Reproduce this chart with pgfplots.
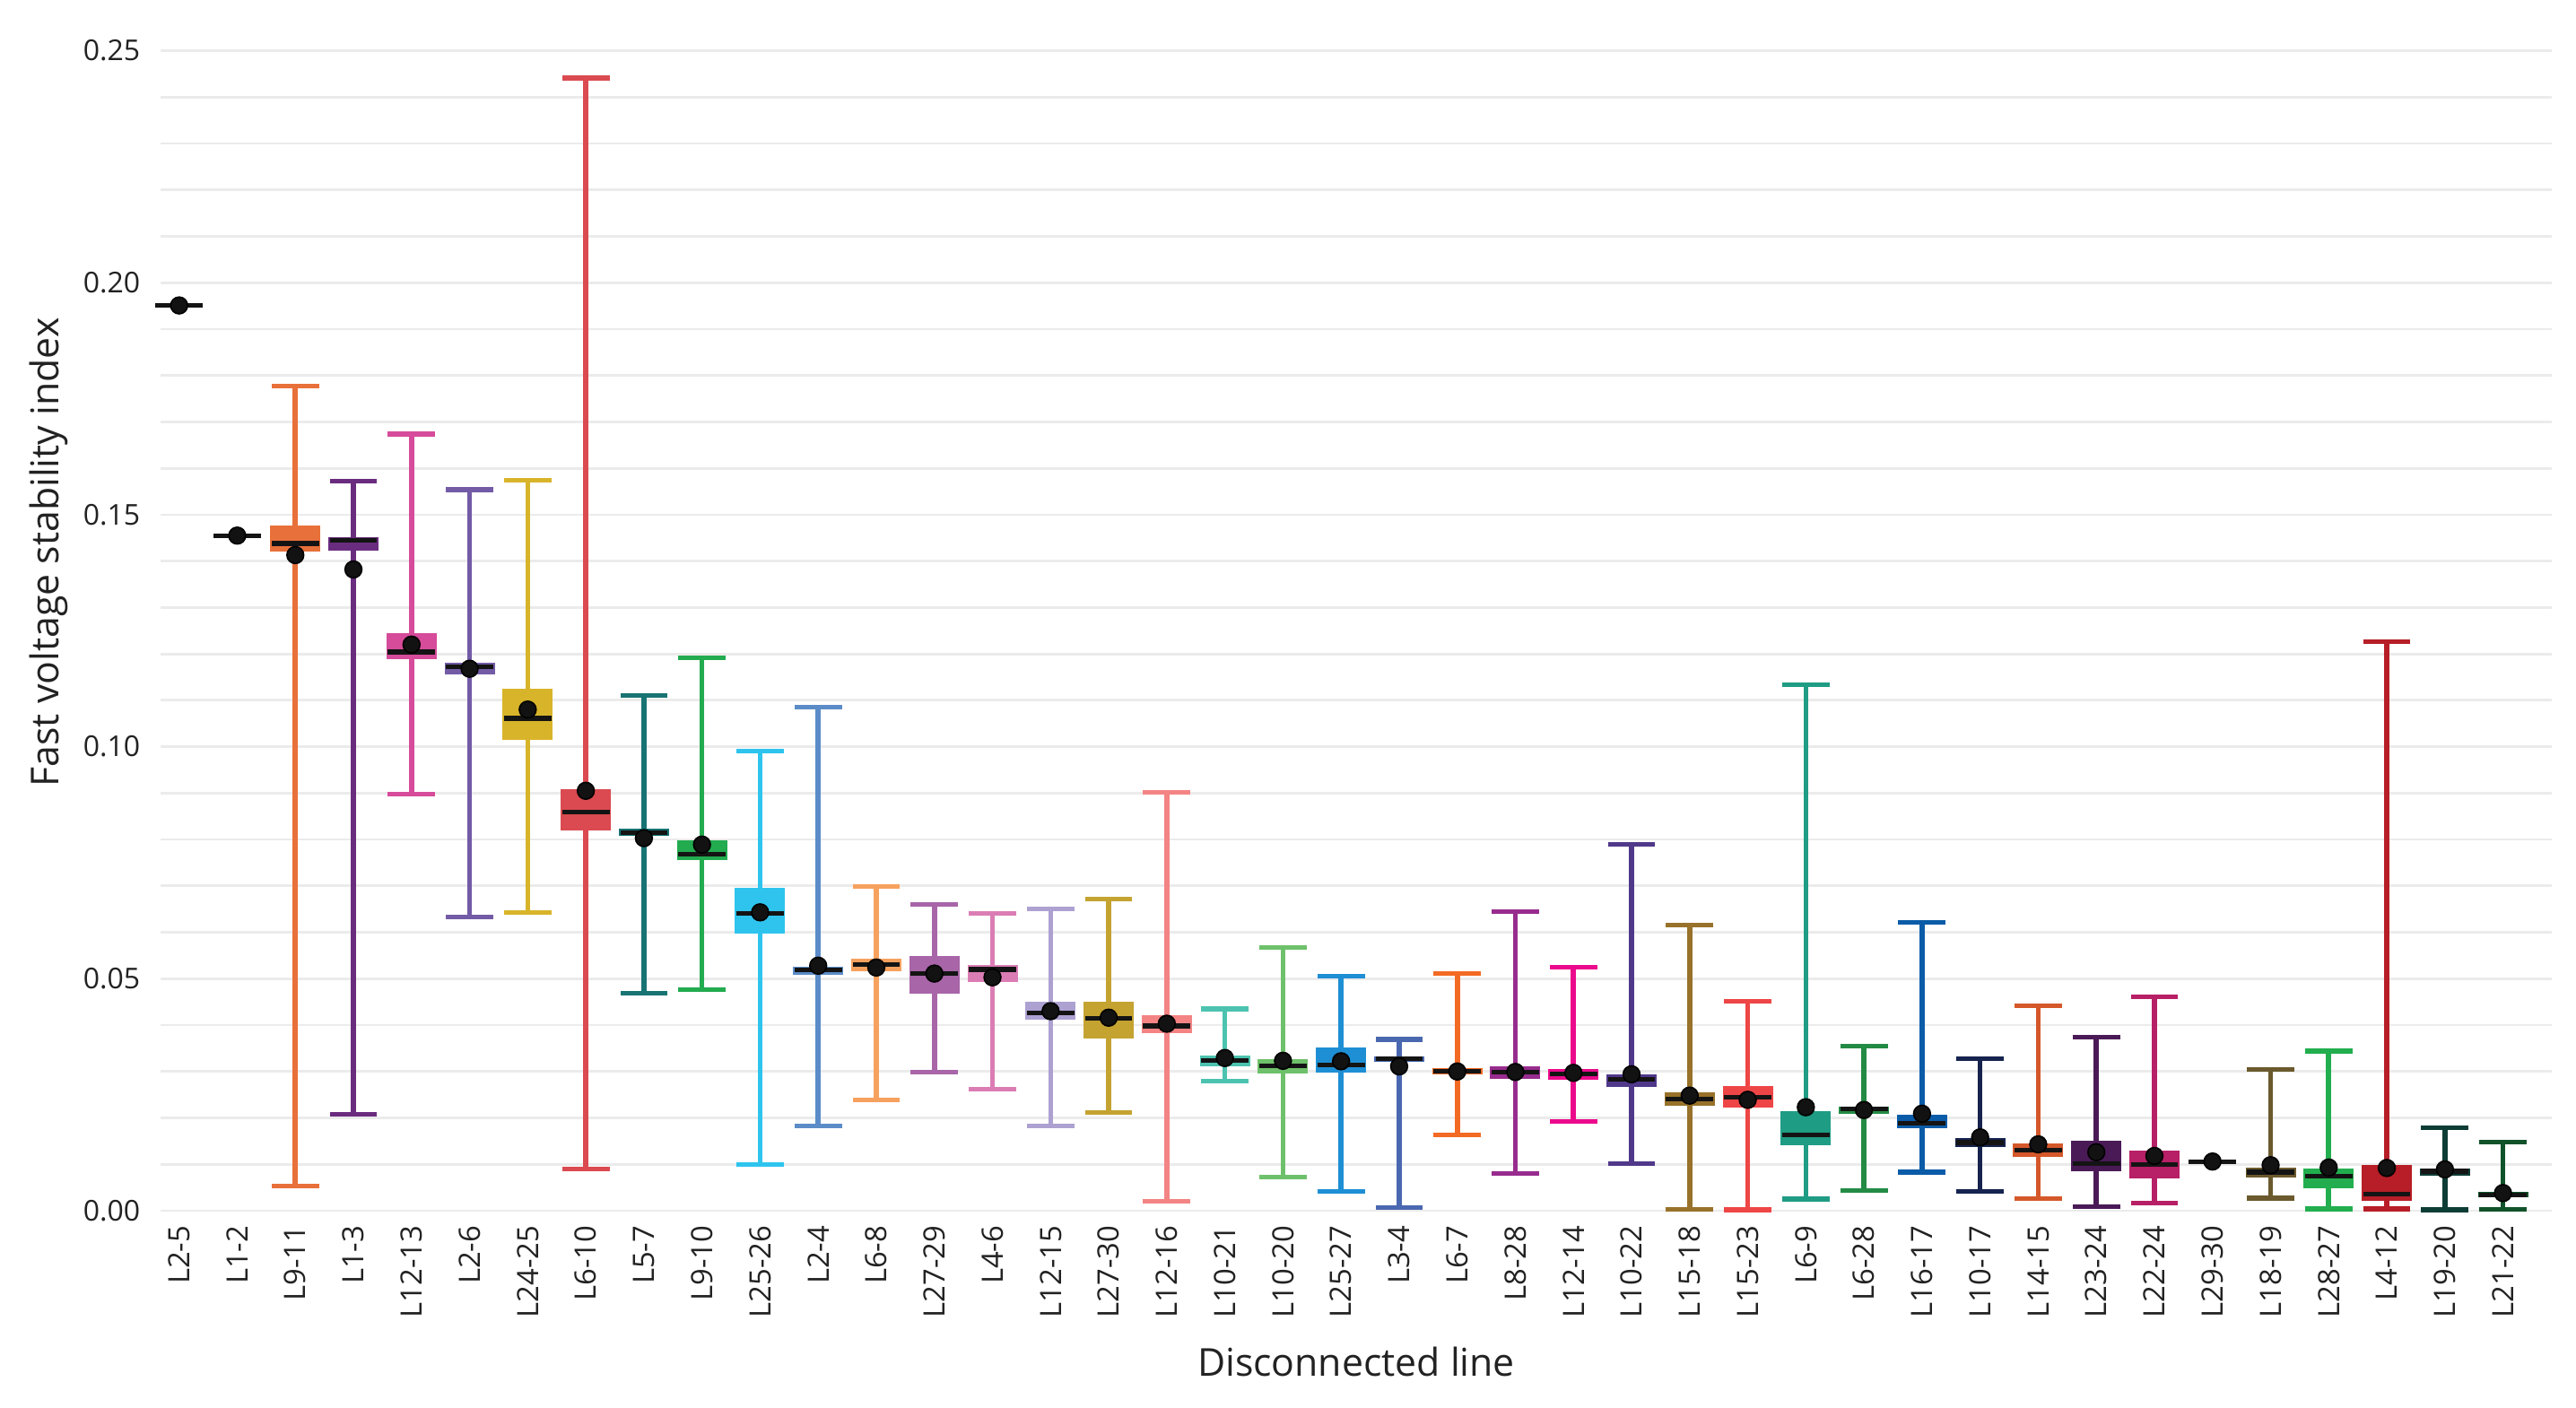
\documentclass[border=0pt]{standalone}
\usepackage{fontspec}
\setmainfont{Open Sans}
\usepackage{pgfplots}
\pgfplotsset{compat=1.18}

\definecolor{gridc}{HTML}{EBEBEB}
\definecolor{txt}{HTML}{222222}
\definecolor{c03}{HTML}{E8703A}
\definecolor{c04}{HTML}{6A2C7F}
\definecolor{c05}{HTML}{D64B9A}
\definecolor{c06}{HTML}{735BA6}
\definecolor{c07}{HTML}{D8B42A}
\definecolor{c08}{HTML}{DA4A50}
\definecolor{c09}{HTML}{187373}
\definecolor{c10}{HTML}{22AB4F}
\definecolor{c11}{HTML}{2EC4EE}
\definecolor{c12}{HTML}{5B8CC8}
\definecolor{c13}{HTML}{F7A15E}
\definecolor{c14}{HTML}{A865A8}
\definecolor{c15}{HTML}{DB7DB4}
\definecolor{c16}{HTML}{ADA1D2}
\definecolor{c17}{HTML}{C4A331}
\definecolor{c18}{HTML}{F48484}
\definecolor{c19}{HTML}{4CC3B0}
\definecolor{c20}{HTML}{6EC16A}
\definecolor{c21}{HTML}{1E8FD4}
\definecolor{c22}{HTML}{4A68B0}
\definecolor{c23}{HTML}{F36A24}
\definecolor{c24}{HTML}{982C8E}
\definecolor{c25}{HTML}{EC0A8C}
\definecolor{c26}{HTML}{50388A}
\definecolor{c27}{HTML}{98722A}
\definecolor{c28}{HTML}{EE4646}
\definecolor{c29}{HTML}{1F9C84}
\definecolor{c30}{HTML}{238B44}
\definecolor{c31}{HTML}{0B5CA8}
\definecolor{c32}{HTML}{15234E}
\definecolor{c33}{HTML}{D5582A}
\definecolor{c34}{HTML}{4A1A56}
\definecolor{c35}{HTML}{B71F66}
\definecolor{c37}{HTML}{6B5A2D}
\definecolor{c38}{HTML}{22AE4E}
\definecolor{c39}{HTML}{B71E27}
\definecolor{c40}{HTML}{0E3D36}
\definecolor{c41}{HTML}{10522A}

% one box: position, colour, lower whisker, q1, median, q3, upper whisker
\newcommand{\bxp}[7]{%
  \addplot[#2, line width=1.4pt, mark=-, mark size=6.6pt, mark options={solid, line width=1.3pt}] coordinates {(#1,#3) (#1,#7)};
  \addplot[#2, line width=14pt] coordinates {(#1,#4) (#1,#6)};
  \addplot[black!92, only marks, mark=-, mark size=6.6pt, mark options={line width=1.3pt}] coordinates {(#1,#5)};
}

\begin{document}
\begin{tikzpicture}
\begin{axis}[
    scale only axis,
    width=666.5pt, height=323.35pt,
    xmin=-0.32, xmax=40.84,
    ymin=0, ymax=0.25,
    clip=false,
    axis line style={draw=none},
    major tick length=0pt, minor tick length=0pt,
    tick style={draw=none},
    ytick={0,0.05,0.1,0.15,0.2,0.25},
    minor y tick num=4,
    ymajorgrids, yminorgrids,
    major grid style={draw=gridc, line width=0.7pt},
    minor grid style={draw=gridc, line width=0.7pt},
    xtick={0,...,40},
    xticklabels={L2-5,L1-2,L9-11,L1-3,L12-13,L2-6,L24-25,L6-10,L5-7,L9-10,L25-26,L2-4,L6-8,L27-29,L4-6,L12-15,L27-30,L12-16,L10-21,L10-20,L25-27,L3-4,L6-7,L8-28,L12-14,L10-22,L15-18,L15-23,L6-9,L6-28,L16-17,L10-17,L14-15,L23-24,L22-24,L29-30,L18-19,L28-27,L4-12,L19-20,L21-22},
    xticklabel style={yshift=-4pt, rotate=90, anchor=east, inner sep=0pt, font=\fontsize{8.2}{9}\selectfont, text=txt},
    yticklabel style={anchor=east, inner sep=0pt, xshift=-5.5pt, font=\fontsize{8}{9}\selectfont, text=txt,
        /pgf/number format/fixed, /pgf/number format/fixed zerofill,
        /pgf/number format/precision=2, /pgf/number format/assume math mode=true},
    every axis y label/.style={at={(axis description cs:-0.0383,0.5675)}, rotate=90, anchor=south, inner sep=0pt, font=\fontsize{10.7}{12}\selectfont, text=txt},
    every axis x label/.style={at={(axis description cs:0.5,0)}, anchor=center, yshift=-42pt, font=\fontsize{10.7}{12}\selectfont, text=txt},
    ylabel={Fast voltage stability index},
    xlabel={Disconnected line},
]
\bxp{0}{black!92}{0.1951}{0.1951}{0.1951}{0.1951}{0.1951}
\bxp{1}{black!92}{0.1455}{0.1455}{0.1455}{0.1455}{0.1455}
\bxp{2}{c03}{0.0053}{0.1420}{0.1438}{0.1476}{0.1777}
\bxp{3}{c04}{0.0207}{0.1422}{0.1445}{0.1452}{0.1572}
\bxp{4}{c05}{0.0898}{0.1189}{0.1204}{0.1245}{0.1674}
\bxp{5}{c06}{0.0633}{0.1155}{0.1172}{0.1181}{0.1554}
\bxp{6}{c07}{0.0642}{0.1015}{0.1061}{0.1124}{0.1575}
\bxp{7}{c08}{0.0090}{0.0820}{0.0859}{0.0908}{0.2441}
\bxp{8}{c09}{0.0468}{0.0807}{0.0815}{0.0823}{0.1111}
\bxp{9}{c10}{0.0477}{0.0755}{0.0769}{0.0799}{0.1191}
\bxp{10}{c11}{0.0099}{0.0598}{0.0641}{0.0695}{0.0990}
\bxp{11}{c12}{0.0183}{0.0508}{0.0519}{0.0526}{0.1085}
\bxp{12}{c13}{0.0239}{0.0517}{0.0530}{0.0543}{0.0698}
\bxp{13}{c14}{0.0299}{0.0468}{0.0511}{0.0548}{0.0660}
\bxp{14}{c15}{0.0262}{0.0492}{0.0520}{0.0529}{0.0641}
\bxp{15}{c16}{0.0183}{0.0412}{0.0426}{0.0450}{0.0650}
\bxp{16}{c17}{0.0211}{0.0372}{0.0414}{0.0450}{0.0672}
\bxp{17}{c18}{0.0020}{0.0383}{0.0398}{0.0421}{0.0901}
\bxp{18}{c19}{0.0280}{0.0312}{0.0324}{0.0335}{0.0435}
\bxp{19}{c20}{0.0073}{0.0295}{0.0312}{0.0326}{0.0568}
\bxp{20}{c21}{0.0041}{0.0298}{0.0314}{0.0352}{0.0506}
\bxp{21}{c22}{0.0006}{0.0320}{0.0328}{0.0333}{0.0369}
\bxp{22}{c23}{0.0164}{0.0294}{0.0300}{0.0307}{0.0511}
\bxp{23}{c24}{0.0080}{0.0285}{0.0299}{0.0311}{0.0645}
\bxp{24}{c25}{0.0192}{0.0283}{0.0295}{0.0305}{0.0524}
\bxp{25}{c26}{0.0102}{0.0266}{0.0283}{0.0293}{0.0790}
\bxp{26}{c27}{0.0003}{0.0226}{0.0241}{0.0256}{0.0615}
\bxp{27}{c28}{0.0002}{0.0222}{0.0245}{0.0269}{0.0451}
\bxp{28}{c29}{0.0025}{0.0141}{0.0163}{0.0214}{0.1133}
\bxp{29}{c30}{0.0044}{0.0208}{0.0219}{0.0225}{0.0354}
\bxp{30}{c31}{0.0083}{0.0177}{0.0189}{0.0206}{0.0621}
\bxp{31}{c32}{0.0042}{0.0138}{0.0147}{0.0156}{0.0327}
\bxp{32}{c33}{0.0026}{0.0116}{0.0130}{0.0145}{0.0442}
\bxp{33}{c34}{0.0008}{0.0085}{0.0101}{0.0151}{0.0374}
\bxp{34}{c35}{0.0017}{0.0070}{0.0099}{0.0130}{0.0461}
\bxp{35}{black!92}{0.0106}{0.0106}{0.0106}{0.0106}{0.0106}
\bxp{36}{c37}{0.0027}{0.0072}{0.0083}{0.0093}{0.0304}
\bxp{37}{c38}{0.0004}{0.0048}{0.0075}{0.0091}{0.0344}
\bxp{38}{c39}{0.0004}{0.0021}{0.0036}{0.0099}{0.1227}
\bxp{39}{c40}{0.0002}{0.0076}{0.0085}{0.0091}{0.0178}
\bxp{40}{c41}{0.0003}{0.0028}{0.0034}{0.0041}{0.0148}
% means
\addplot[only marks, mark=*, mark size=2.35pt, mark options={fill=black!93, draw=none}] coordinates {
(0,0.1951) (1,0.1455) (2,0.1413) (3,0.1382) (4,0.1220) (5,0.1168) (6,0.1080) (7,0.0905)
(8,0.0803) (9,0.0789) (10,0.0643) (11,0.0528) (12,0.0524) (13,0.0511) (14,0.0503)
(15,0.0430) (16,0.0416) (17,0.0403) (18,0.0329) (19,0.0323) (20,0.0322) (21,0.0311)
(22,0.0300) (23,0.0299) (24,0.0297) (25,0.0294) (26,0.0248) (27,0.0239) (28,0.0223)
(29,0.0217) (30,0.0209) (31,0.0158) (32,0.0143) (33,0.0126) (34,0.0118) (35,0.0106)
(36,0.0098) (37,0.0093) (38,0.0092) (39,0.0089) (40,0.0038)
};
\coordinate (sw) at (rel axis cs:0,0);
\end{axis}
\path ([shift={(-44.75pt,-55pt)}]sw) rectangle ([shift={(673.25pt,337.5pt)}]sw);
\end{tikzpicture}
\end{document}
